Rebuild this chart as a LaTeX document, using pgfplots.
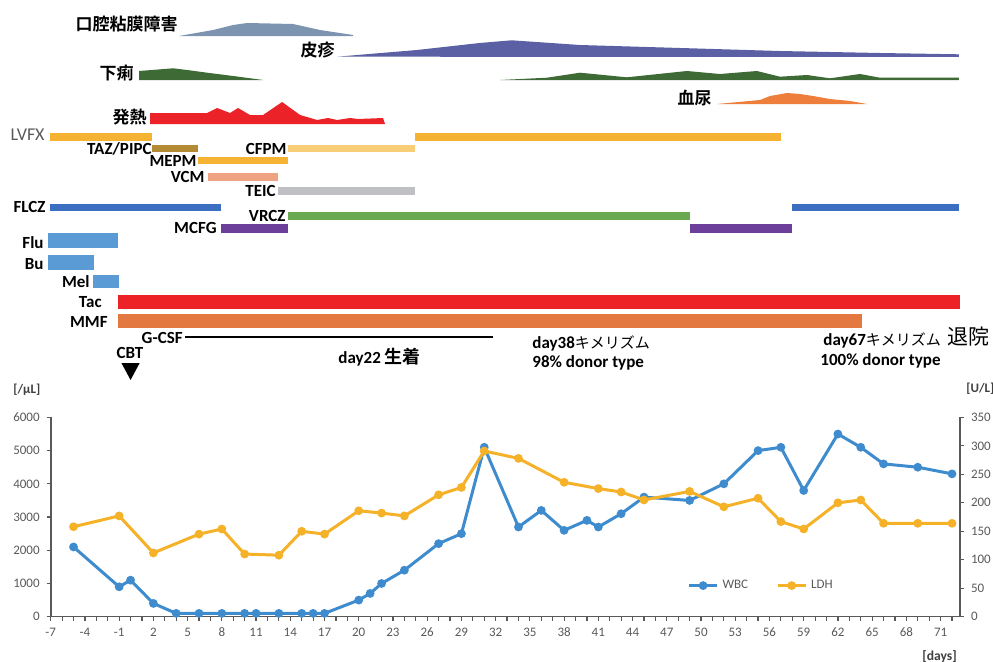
\documentclass[border=0pt]{standalone}
\usepackage{pgfplots}
\pgfplotsset{compat=1.18}
\usepackage{fontspec}
\setmainfont{Carlito}
\newfontfamily\cjk[BoldFont={Noto Sans CJK JP Bold}]{Noto Sans CJK JP}
\definecolor{cOral}{HTML}{7D94B0}
\definecolor{cSkin}{HTML}{5B5FA3}
\definecolor{cDiar}{HTML}{3E6A35}
\definecolor{cFever}{HTML}{EB2227}
\definecolor{cHema}{HTML}{EE7E3B}
\definecolor{cLVFX}{HTML}{F6B232}
\definecolor{cTAZ}{HTML}{B38B35}
\definecolor{cCFPM}{HTML}{F8CD78}
\definecolor{cMEPM}{HTML}{F6B232}
\definecolor{cVCM}{HTML}{EFA383}
\definecolor{cTEIC}{HTML}{BEC0C4}
\definecolor{cFLCZ}{HTML}{3C6FC2}
\definecolor{cVRCZ}{HTML}{6AA951}
\definecolor{cMCFG}{HTML}{6C3F9B}
\definecolor{cCond}{HTML}{5B9BD5}
\definecolor{cTac}{HTML}{EC2227}
\definecolor{cMMF}{HTML}{E37840}
\definecolor{cWBC}{HTML}{3E8CCE}
\definecolor{cLDH}{HTML}{F5B128}
\definecolor{cAxis}{HTML}{595959}
\definecolor{cDark}{HTML}{404040}
\begin{document}
\begin{tikzpicture}
\path[use as bounding box] (0pt,0pt) rectangle (496.5pt,-331pt);
% ---------------- timeline (x in days, y in image rows) ----------------
\begin{axis}[at={(0pt,0pt)}, anchor=north west, width=496.5pt, height=331pt,
  scale only axis, xmin=-11.444, xmax=75.59, ymin=0, ymax=662, y dir=reverse,
  hide axis, clip=false]
% symptom areas
\addplot[fill=cOral, draw=none] coordinates {(4.25,36) (7.23,30) (8.98,25) (10.21,23) (14.24,24) (16.61,30) (19.5,35) (19.5,36)} -- cycle;
\addplot[fill=cSkin, draw=none] coordinates {(18.1,56.7) (25.1,50) (30.6,43) (33.4,40.3) (39.4,45) (48.2,48) (56.9,51) (65.7,53) (72.6,54.3) (72.6,57)} -- cycle;
\addplot[fill=cDiar, draw=none] coordinates {(0.75,80) (0.75,71) (3.73,68.3) (4.96,70) (6.71,72.7) (8.99,76) (11.62,80)} -- cycle;
\addplot[fill=cDiar, draw=none] coordinates {(32.38,80) (36.5,77.7) (39.39,72.7) (43.5,77.3) (48.77,71) (51.66,74) (54.9,71) (56.92,76.7) (59.29,75) (61.3,78.3) (63.93,74) (65.69,77.7) (72.6,77.7) (72.6,80)} -- cycle;
\addplot[fill=cFever, draw=none] coordinates {(1.71,124) (1.71,113) (6.71,113) (7.58,108) (8.72,113) (9.42,108) (10.47,115) (11.61,115) (13.28,102) (14.86,115) (16.35,120) (17.31,118) (18.1,120) (19.24,118) (19.94,119) (22.13,118) (22.3,124)} -- cycle;
\addplot[fill=cHema, draw=none] coordinates {(51.4,104) (55.17,100) (56.05,96) (57.54,93) (58.68,94) (59.82,96) (61.3,99) (63.06,101) (64.55,104)} -- cycle;
% drug bars
\addplot[cLVFX, line width=4pt] coordinates {(-7.1,137) (1.9,137)};
\addplot[cLVFX, line width=4pt] coordinates {(24.9,137) (57.0,137)};
\addplot[cTAZ, line width=3.5pt] coordinates {(1.9,148.5) (5.9,148.5)};
\addplot[cCFPM, line width=3.5pt] coordinates {(13.8,148.5) (24.9,148.5)};
\addplot[cMEPM, line width=3.5pt] coordinates {(5.9,160.5) (13.8,160.5)};
\addplot[cVCM, line width=4pt] coordinates {(6.8,177) (12.9,177)};
\addplot[cTEIC, line width=3.75pt] coordinates {(12.9,191) (24.9,191)};
\addplot[cFLCZ, line width=3.5pt] coordinates {(-7.1,207.5) (7.9,207.5)};
\addplot[cFLCZ, line width=3.5pt] coordinates {(58.0,207.5) (72.6,207.5)};
\addplot[cVRCZ, line width=4pt] coordinates {(13.8,216) (49.0,216)};
\addplot[cMCFG, line width=4.25pt] coordinates {(7.9,228.5) (13.8,228.5)};
\addplot[cMCFG, line width=4.25pt] coordinates {(49.0,228.5) (58.0,228.5)};
\addplot[cCond, line width=7.5pt] coordinates {(-7.2,240.5) (-1.1,240.5)};
\addplot[cCond, line width=7.5pt] coordinates {(-7.2,262.5) (-3.2,262.5)};
\addplot[cCond, line width=6.5pt] coordinates {(-3.3,281.5) (-1.0,281.5)};
\addplot[cTac, line width=7pt] coordinates {(-1.1,302) (72.7,302)};
\addplot[cMMF, line width=7pt] coordinates {(-1.1,321) (64.1,321)};
\addplot[black, line width=1.25pt] coordinates {(4.8,337) (31.8,337)};
\addplot[fill=black, draw=none] coordinates {(-0.8,363) (0.8,363) (0,380)} -- cycle;
\end{axis}
% ---------------- WBC (left axis) ----------------
\begin{axis}[at={(25.35pt,-308.35pt)}, anchor=south west, width=454.65pt, height=99.65pt,
  scale only axis, xmin=-7, xmax=72.7, ymin=0, ymax=6000,
  axis x line*=bottom, axis y line*=left,
  xtick={-7,-4,...,71}, minor xtick={-7,-6,...,72}, ytick={0,1000,...,6000},
  tick align=outside, major tick length=2pt, minor tick length=2pt,
  tick style={cAxis, line width=0.6pt}, axis line style={cAxis, line width=0.8pt},
  ticklabel style={font=\fontsize{6.5}{7}\selectfont, text=cAxis},
  /pgf/number format/assume math mode=true, /pgf/number format/1000 sep={},
  clip=false]
\addplot[cWBC, line width=1.5pt, mark=*, mark size=1.4pt] coordinates {
(-5,2100) (-1,900) (0,1100) (2,400) (4,100) (6,100) (8,100) (10,100) (11,100) (13,100) (15,100) (16,100) (17,100) (20,500) (21,700) (22,1000) (24,1400) (27,2200) (29,2500) (31,5100) (34,2700) (36,3200) (38,2600) (40,2900) (41,2700) (43,3100) (45,3600) (49,3500) (52,4000) (55,5000) (57,5100) (59,3800) (62,5500) (64,5100) (66,4600) (69,4500) (72,4300)};
\end{axis}
% ---------------- LDH (right axis) ----------------
\begin{axis}[at={(25.35pt,-308.35pt)}, anchor=south west, width=454.65pt, height=99.65pt,
  scale only axis, xmin=-7, xmax=72.7, ymin=0, ymax=350,
  axis x line=none, axis y line*=right, ytick={0,50,...,350},
  tick align=outside, major tick length=2pt,
  tick style={cAxis, line width=0.6pt}, axis line style={cAxis, line width=0.8pt},
  ticklabel style={font=\fontsize{6.5}{7}\selectfont, text=cAxis},
  /pgf/number format/assume math mode=true,
  legend columns=2,
  legend image code/.code={\draw[mark repeat=2,mark phase=2,#1] plot coordinates {(0pt,0pt) (7pt,0pt) (14pt,0pt)};},
  legend style={at={(0.70,0.156)}, anchor=west, draw=none, fill=none,
    font=\fontsize{6.5}{7}\selectfont, text=cAxis, inner sep=0pt,
    /tikz/every even column/.append style={column sep=12pt}},
  clip=false]
\addlegendimage{cWBC, line width=1.5pt, mark=*, mark size=1.4pt}
\addlegendentry{WBC}
\addplot[cLDH, line width=1.5pt, mark=*, mark size=1.4pt] coordinates {
(-5,158) (-1,177) (2,112) (6,145) (8,154) (10,110) (13,108) (15,150) (17,145) (20,186) (22,182) (24,177) (27,214) (29,227) (31,291) (34,278) (38,236) (41,225) (43,219) (45,205) (49,220) (52,193) (55,208) (57,167) (59,154) (62,200) (64,205) (66,164) (69,164) (72,164)};
\addlegendentry{LDH}
\end{axis}
% ---------------- labels (image pixel frame) ----------------
\begin{scope}[x=0.5pt, y=-0.5pt,
  lab/.style={font=\fontsize{8.5}{9}\selectfont\bfseries, inner sep=0pt, anchor=east},
  jlab/.style={font=\cjk\bfseries\fontsize{8.5}{9}\selectfont, inner sep=0pt, anchor=east}]
\node[jlab] at (178,24) {口腔粘膜障害};
\node[jlab] at (335,50) {皮疹};
\node[jlab] at (134,73) {下痢};
\node[jlab] at (147,117) {発熱};
\node[jlab] at (712,98) {血尿};
\node[inner sep=0pt, anchor=east, font=\fontsize{9}{10}\selectfont, text=cAxis] at (45,135) {LVFX};
\node[lab] at (152,149) {TAZ/PIPC};
\node[lab] at (287,149) {CFPM};
\node[lab] at (197,161) {MEPM};
\node[lab] at (205,177) {VCM};
\node[lab] at (276,191) {TEIC};
\node[lab] at (46,207) {FLCZ};
\node[lab] at (286,216) {VRCZ};
\node[lab] at (217,228) {MCFG};
\node[lab] at (44,243) {Flu};
\node[lab] at (44,264) {Bu};
\node[lab] at (90,282) {Mel};
\node[lab] at (102,302) {Tac};
\node[lab] at (108,322) {MMF};
\node[lab] at (183,338) {G-CSF};
\node[lab, anchor=center] at (130,353) {CBT};
\node[inner sep=0pt, anchor=west] at (338,357) {\fontsize{8.5}{9}\selectfont\bfseries day22 {\cjk\fontsize{9}{10}\selectfont 生着}};
\node[inner sep=0pt, anchor=west] at (532,343) {\fontsize{8.5}{9}\selectfont\bfseries day38{\cjk\mdseries\fontsize{7.5}{9}\selectfont キメリズム}};
\node[inner sep=0pt, anchor=west, font=\fontsize{8.5}{9}\selectfont\bfseries] at (532,363) {98\% donor type};
\node[inner sep=0pt, anchor=west] at (823,340) {\fontsize{8.5}{9}\selectfont\bfseries day67{\cjk\mdseries\fontsize{7.5}{9}\selectfont キメリズム}};
\node[inner sep=0pt, anchor=west, font=\cjk\fontsize{10.5}{11}\selectfont] at (947,337) {退院};
\node[inner sep=0pt, anchor=west, font=\fontsize{8.5}{9}\selectfont\bfseries] at (820,361) {100\% donor type};
\node[inner sep=0pt, anchor=west, font=\fontsize{6.5}{7}\selectfont\bfseries, text=cDark] at (13,390) {[/μL]};
\node[inner sep=0pt, anchor=west, font=\fontsize{6.5}{7}\selectfont\bfseries, text=cDark] at (966,389) {[U/L]};
\node[inner sep=0pt, anchor=west, font=\fontsize{6.8}{7}\selectfont\bfseries, text=cDark] at (922,657) {[days]};
\end{scope}
\end{tikzpicture}
\end{document}
